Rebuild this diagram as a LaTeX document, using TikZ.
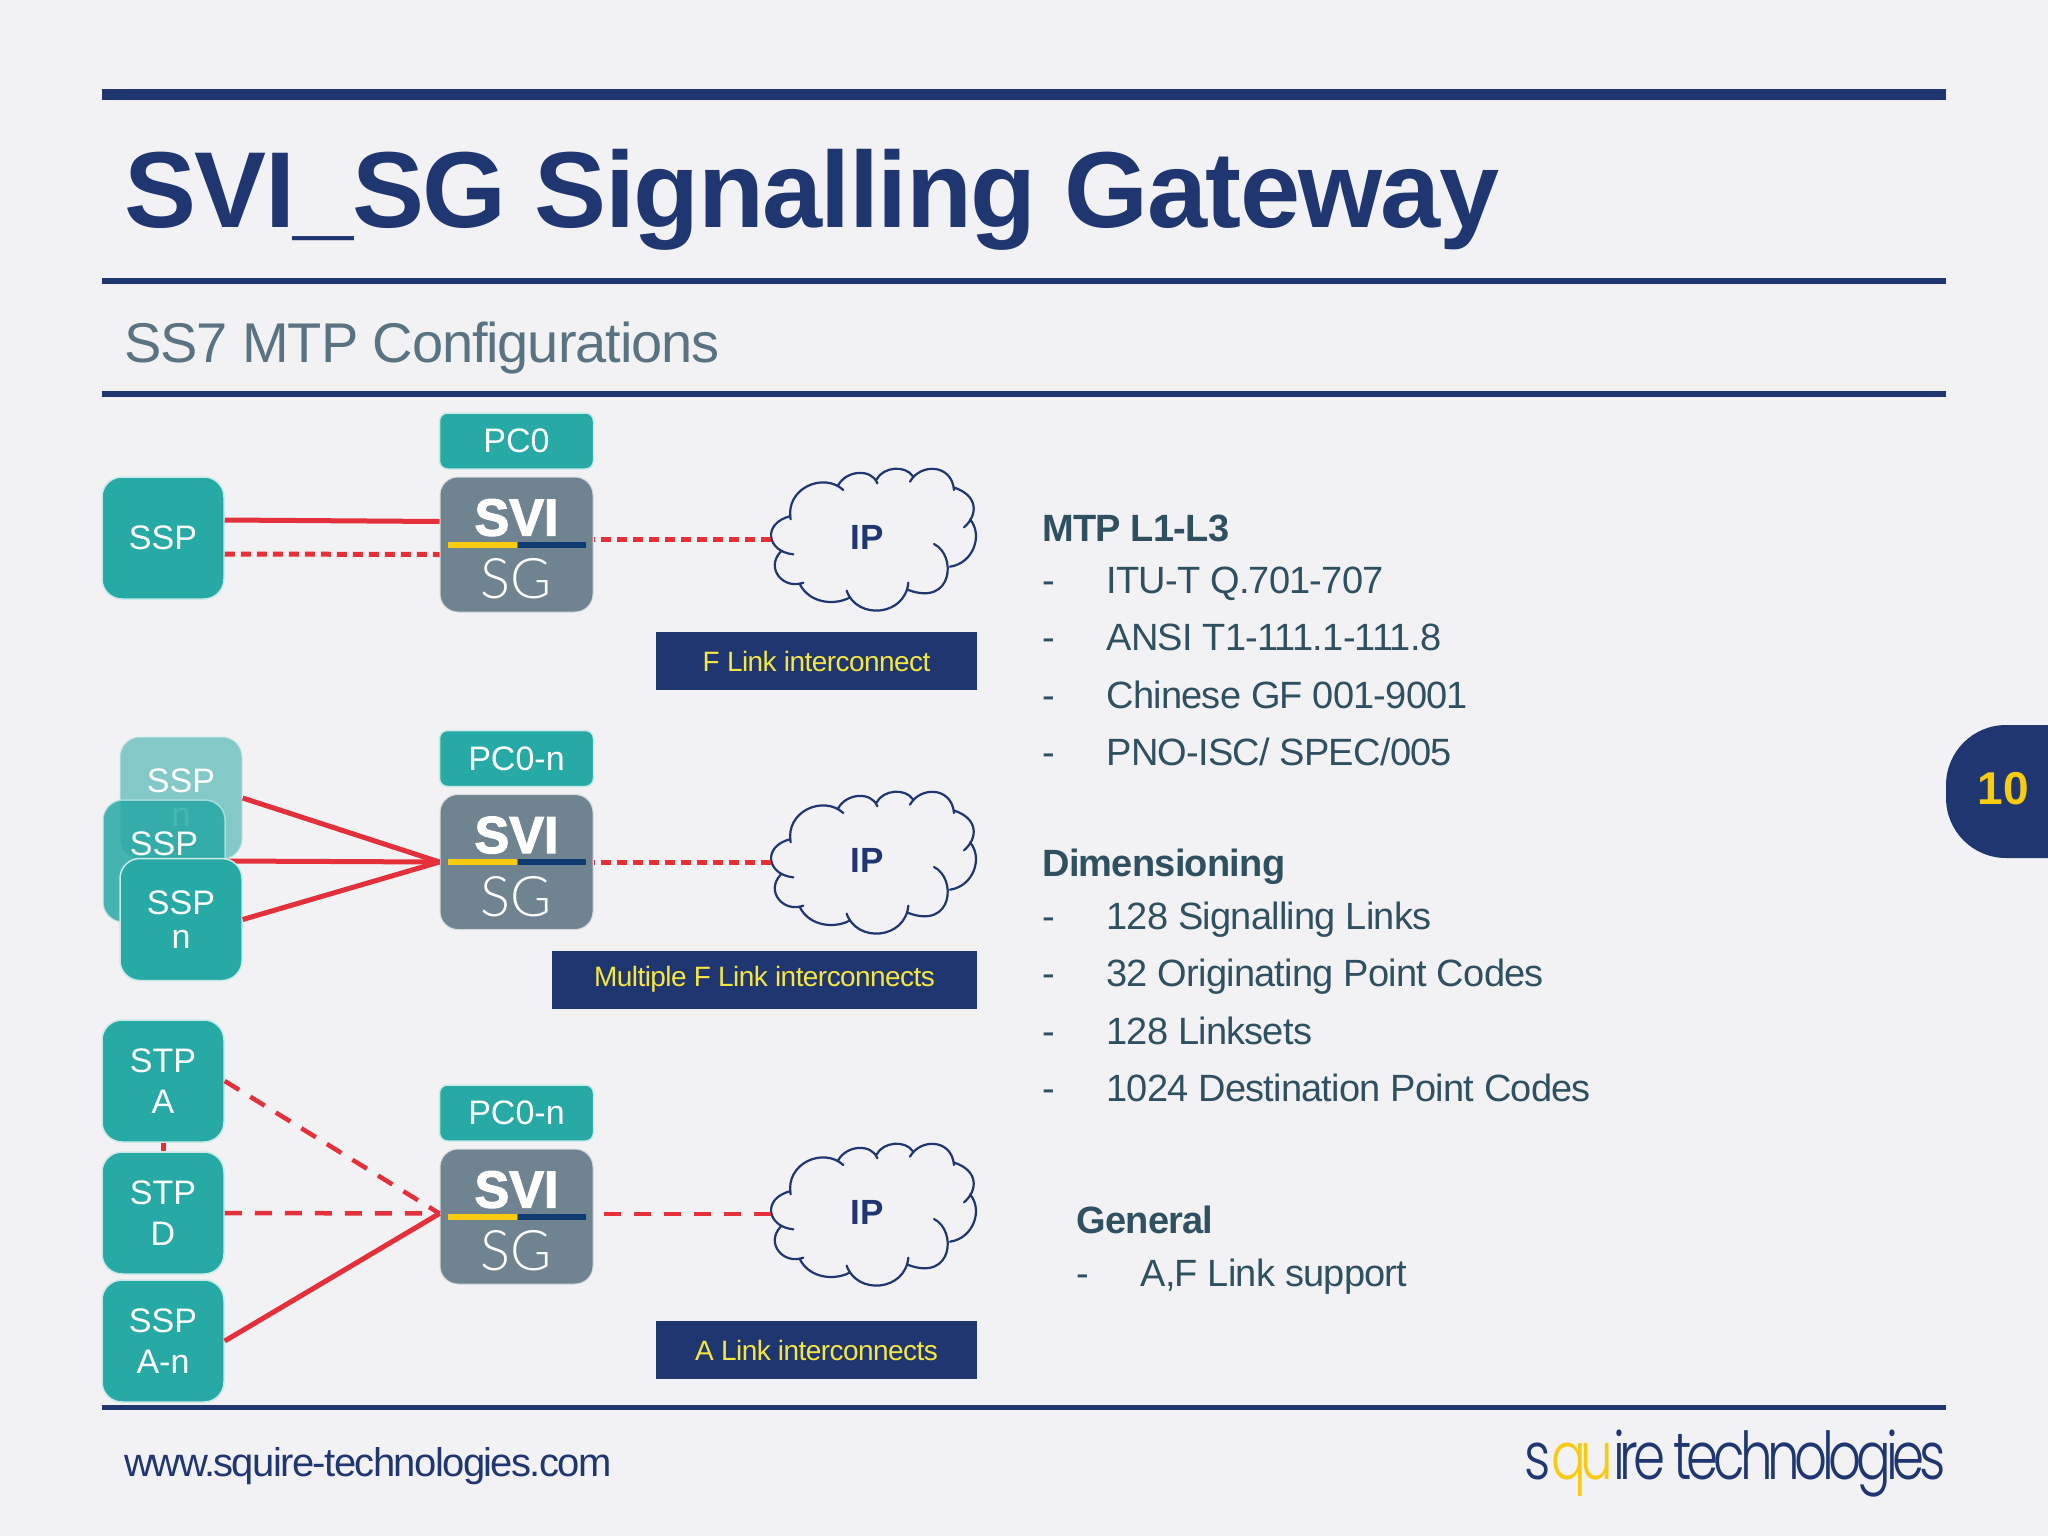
\documentclass[tikz,border=0pt]{standalone}
\usepackage{fontspec}
\usepackage{tikz}
\usetikzlibrary{calc}
\setmainfont{Liberation Sans}
\newfontfamily\tightfont{Liberation Sans}[LetterSpace=-2]
\newfontfamily\titlefont{Liberation Sans}[LetterSpace=-1.5]
\newfontfamily\urlfont{Liberation Sans}[LetterSpace=-4]
\newfontfamily\svifont{Liberation Sans}[BoldFeatures={FakeBold=2.5}]
\newfontfamily\sgfont{Lato}[UprightFont=* Light]
\newfontfamily\logofont{Poppins}[UprightFont=* Light,LetterSpace=-8,FakeStretch=0.78]
\definecolor{pagegray}{HTML}{F2F2F4}
\definecolor{navyblue}{HTML}{1F3670}
\definecolor{tealbox}{HTML}{27A9A5}
\definecolor{slategray}{HTML}{6F8390}
\definecolor{subgray}{HTML}{5A7382}
\definecolor{darkslate}{HTML}{2F5060}
\definecolor{linkred}{HTML}{E3303A}
\definecolor{sunyellow}{HTML}{F8CB10}
\definecolor{bannertext}{HTML}{F5E642}
\definecolor{barblue}{HTML}{0F3B70}
\tikzset{
  rulebar/.style={fill=navyblue,draw=none},
  tealnode/.style={draw=white!75!tealbox,line width=0.75pt,fill=tealbox,text=white,rounded corners=10pt,
    minimum width=61pt,minimum height=61pt,inner sep=0pt,align=center,font=\fontsize{17}{20.5}\selectfont},
  pcnode/.style={tealnode,rounded corners=4pt,minimum width=77pt,minimum height=28pt},
  svinode/.style={fill=slategray,draw=white!70!slategray,line width=0.5pt,rounded corners=9pt,minimum width=76.5pt,minimum height=67.5pt,inner sep=0pt},
  banner/.style={fill=navyblue,text=bannertext,minimum height=29pt,inner sep=0pt,font=\fontsize{14}{17}\tightfont},
  plainline/.style={draw=linkred,line width=2.5pt},
  finedash/.style={plainline,dash pattern=on 5pt off 3pt},
  longdash/.style={plainline,line width=2.25pt,dash pattern=on 8.5pt off 6.5pt},
  bodytext/.style={anchor=base west,inner sep=0pt,text=darkslate,font=\fontsize{19}{23}\tightfont},
  headtext/.style={bodytext,font=\fontsize{19}{23}\bfseries\tightfont},
  cloudshape/.pic={
    \draw[navyblue,line width=1.1pt,line cap=round,x=0.16667pt,y=-0.16667pt]
      (152,238) .. controls (135,145) and (250,95) .. (310,150)
      (295,135) .. controls (320,90) and (395,85) .. (412,130)
      (410,118) .. controls (430,80) and (495,75) .. (518,108)
      (510,125) .. controls (540,70) and (635,70) .. (642,150)
      (640,142) .. controls (715,165) and (715,225) .. (672,262)
      (690,238) .. controls (730,285) and (700,370) .. (630,380)
      (582,312) .. controls (650,345) and (640,500) .. (505,450)
      (505,428) .. controls (495,530) and (350,540) .. (320,452)
      (330,472) .. controls (290,495) and (210,495) .. (178,430)
      (190,428) .. controls (130,450) and (75,385) .. (122,335)
      (160,343) .. controls (80,335) and (65,250) .. (152,228);
  }
}
\begin{document}
\begin{tikzpicture}[x=0.5pt,y=-0.5pt]
  %% Page and header
  \useasboundingbox (0,0) rectangle (2048,1536);
  \fill[pagegray] (0,0) rectangle (2048,1536);
  \fill[rulebar] (102,89) rectangle (1946,100);
  \fill[rulebar] (102,278) rectangle (1946,284);
  \fill[rulebar] (102,391) rectangle (1946,397);
  \fill[rulebar] (102,1405) rectangle (1946,1410);
  \node[anchor=base west,inner sep=0pt,text=navyblue,font=\fontsize{54}{60}\bfseries\titlefont] (TITLE) at (124,227) {SVI\_SG Signalling Gateway};
  \node[anchor=base west,inner sep=0pt,text=subgray,font=\fontsize{28}{32}\tightfont] (SUBTITLE) at (124,362) {SS7 MTP Configurations};

  %% Gateway, point code, cloud for each row
  \foreach \n/\y/\pc/\cy/\linestyle in {1/544.5/PC0/440/finedash,2/862/PC0-n/763/finedash,3/1216.5/PC0-n/1115/longdash}
  {
    \node[svinode] (SVI\n) at (516.5,\y) {};
    \node[pcnode] (PC\n) at ($(SVI\n)+(0,-103.5)$) {\pc};
    \node[inner sep=0pt,anchor=base,text=white,font=\fontsize{26}{30}\svifont\bfseries] (SVT\n) at ($(SVI\n)+(0,-9)$) {SVI};
    \node[inner sep=0pt,anchor=base,text=white,font=\fontsize{28}{32}\sgfont] (SGT\n) at ($(SVI\n)+(0,54)$) {SG};
    \fill[sunyellow] ($(SVI\n)+(-69,-3)$) rectangle ($(SVI\n)+(0,3)$);
    \fill[barblue] ($(SVI\n)+(1,-3)$) rectangle ($(SVI\n)+(69,3)$);
    \pic at (740,\cy) {cloudshape};
    \coordinate (CW\n) at (771,\cy+99);
    \node[inner sep=0pt,text=navyblue,font=\fontsize{17.5}{20}\bfseries\selectfont] (IP\n) at (867,\cy+97) {IP};
    \draw[\linestyle] (CW\n) -- (SVI\n.east |- CW\n);
  }

  %% Row 1
  \node[tealnode] (SSP1) at (163,538) {SSP};
  \draw[plainline] ([yshift=9pt]SSP1.east) -- ([yshift=11.5pt]SVI1.west);
  \draw[finedash] ([yshift=-8pt]SSP1.east) -- ([yshift=-5pt]SVI1.west);

  %% Row 2
  \node[tealnode,fill opacity=0.55,text opacity=1,draw opacity=0.5,font=\fontsize{17}{17}\selectfont] (SSPB) at (181,798) {SSP\\n};
  \node[tealnode,fill opacity=0.85,text opacity=1,draw opacity=0.7,font=\fontsize{17}{17}\selectfont] (SSPM) at (164,861) {SSP\\\phantom{n}};
  \draw[plainline] (SSPB.east) -- (SVI2.west);
  \draw[plainline] (SSPM.east) -- (SVI2.west);
  \node[tealnode,font=\fontsize{17}{17}\selectfont] (SSPF) at (181,919.5) {SSP\\n};
  \draw[plainline] (SSPF.east) -- (SVI2.west);

  %% Row 3
  \coordinate (TIP3) at ([yshift=1.5pt]SVI3.west);
  \node[tealnode] (STPA) at (163,1081) {STP\\A};
  \node[tealnode] (STPD) at (163,1213) {STP\\D};
  \node[tealnode] (SSPA) at (163,1341) {SSP\\A-n};
  \draw[plainline] (STPA.south) -- (STPD.north);
  \draw[longdash] (STPA.east) -- (TIP3);
  \draw[longdash] (STPD.east) -- (TIP3);
  \draw[plainline] (SSPA.east) -- (TIP3);

  %% Banners
  \node[banner,minimum width=160.5pt] (FLINK) at (816.5,661) {F Link interconnect};
  \node[banner,minimum width=212.5pt] (MLINK) at (764.5,979.5) {Multiple F Link interconnects};
  \node[banner,minimum width=160.5pt] (ALINK) at (816.5,1350) {A Link interconnects};

  %% Right side text
  \node[headtext] (HMTP) at (1042,541) {MTP L1-L3};
  \node[headtext] (HDIM) at (1042,876) {Dimensioning};
  \node[headtext] (HGEN) at (1076,1233) {General};
  \foreach \n/\x/\y/\txt in {1/1042/593/{ITU-T Q.701-707},2/1042/650/{ANSI T1-111.1-111.8},3/1042/708/{Chinese GF 001-9001},4/1042/765/{PNO-ISC/ SPEC/005},5/1042/929/{128 Signalling Links},6/1042/986/{32 Originating Point Codes},7/1042/1044/{128 Linksets},8/1042/1101/{1024 Destination Point Codes},9/1076/1286/{A,F Link support}}
  {
    \node[bodytext] (D\n) at (\x,\y) {-};
    \node[bodytext] (T\n) at (\x+64,\y) {\txt};
  }

  %% Page tab and footer
  \fill[navyblue] (2048,725) [rounded corners=30pt] -- (1946,725) -- (1946,858) [sharp corners] -- (2048,858) -- cycle;
  \node[inner sep=0pt,text=sunyellow,font=\fontsize{23}{26}\bfseries\selectfont] (PAGENO) at (2003,789) {10};
  \node[anchor=base west,inner sep=0pt,text=navyblue,font=\fontsize{20}{24}\urlfont] (WWW) at (124,1476) {www.squire-technologies.com};
  \node[anchor=base east,inner sep=0pt,text=navyblue,font=\fontsize{33}{38}\logofont] (LOGO) at (1946,1479) {s\textcolor{sunyellow}{qu}ire technologies};
\end{tikzpicture}
\end{document}
